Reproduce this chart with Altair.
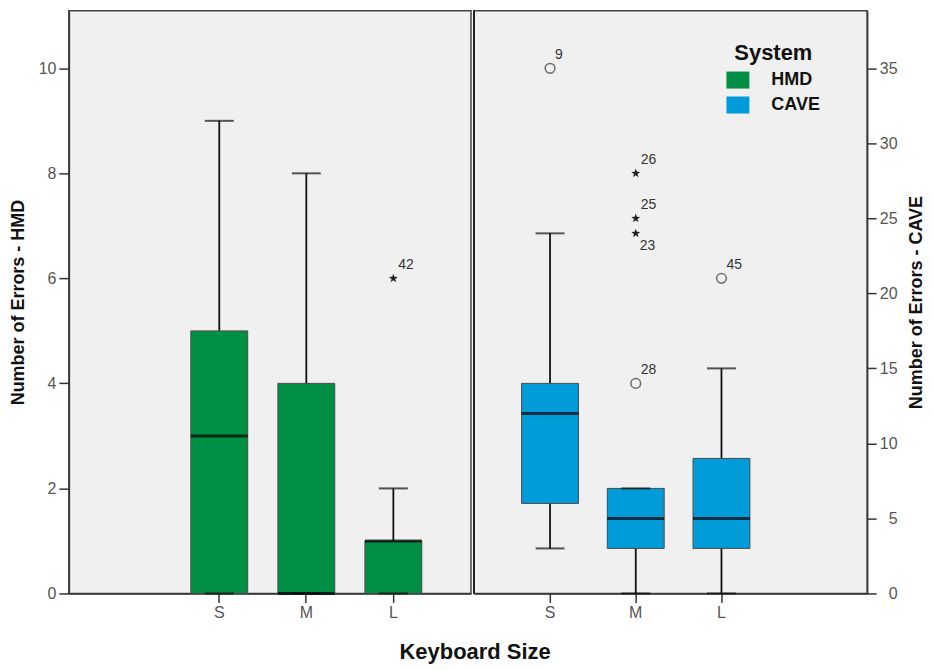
import altair as alt
import pandas as pd

# ---- data ----
sizes = ["S", "M", "L"]
systems = ["HMD", "CAVE"]
system_colors = ["#008f45", "#009bd9"]

hmd_low = [0, 0, 0]
hmd_q1 = [0, 0, 0]
hmd_median = [3, 0, 1]
hmd_q3 = [5, 4, 1]
hmd_high = [9, 8, 2]

cave_low = [3, 0, 0]
cave_q1 = [6, 3, 3]
cave_median = [12, 5, 5]
cave_q3 = [14, 7, 9]
cave_high = [24, 7, 15]

out_system = ["HMD", "CAVE", "CAVE", "CAVE", "CAVE", "CAVE", "CAVE"]
out_size = ["L", "S", "M", "M", "M", "M", "L"]
out_value = [6, 35, 14, 24, 25, 28, 21]
out_case = ["42", "9", "28", "23", "25", "26", "45"]
out_kind = ["extreme", "outlier", "outlier", "extreme", "extreme", "extreme", "outlier"]
out_label_side = ["above", "above", "above", "below", "above", "above", "above"]

hmd_ticks = [0, 2, 4, 6, 8, 10]
cave_ticks = [0, 5, 10, 15, 20, 25, 30, 35]

STAR = ("M0,-1L0.235,-0.324L0.951,-0.309L0.38,0.124L0.588,0.809L0,0.4"
        "L-0.588,0.809L-0.38,0.124L-0.951,-0.309L-0.235,-0.324Z")
SWATCH = "M-1,-0.74L1,-0.74L1,0.74L-1,0.74Z"

outliers = pd.DataFrame({
    "system": out_system, "size": out_size, "value": out_value,
    "case": out_case, "kind": out_kind, "side": out_label_side,
})

AX = dict(domainColor="#333", domainWidth=1.5, tickColor="#333", tickWidth=1.5,
          labelColor="#555", labelFontSize=16, labelFont="Liberation Sans",
          titleFont="Liberation Sans", titleFontSize=18, titleFontWeight="bold",
          titleColor="#111", grid=False)

PANEL_H = 584


def panel(system, low, q1, med, q3, high, ymax, ticks, width, pin, align,
          orient, title, legend):
    box = pd.DataFrame({"size": sizes, "system": system, "low": low, "q1": q1,
                        "median": med, "q3": q3, "high": high})
    outs = outliers[outliers["system"] == system]

    xscale = alt.Scale(type="band", domain=sizes, paddingInner=pin,
                       paddingOuter=1, align=align)
    x = alt.X("size:N", scale=xscale,
              axis=alt.Axis(title=None, labelAngle=0, tickSize=9, labelPadding=2,
                            **AX))
    yscale = alt.Scale(domain=[0, ymax], nice=False, zero=True)
    if orient == "left":
        yaxis = alt.Axis(orient="left", values=ticks, title=title, tickSize=10,
                         labelPadding=3, titlePadding=11, **AX)
    else:
        yaxis = alt.Axis(orient="right", values=ticks, title=title, tickSize=9,
                         labelPadding=21, labelAlign="right", titlePadding=10,
                         titleAngle=270, titleBaseline="top", **AX)

    base = alt.Chart(box).encode(x=x)
    whisk = base.mark_rule(color="#111", strokeWidth=1.8).encode(
        y=alt.Y("low:Q", scale=yscale, axis=yaxis), y2="high:Q")
    bars = base.mark_bar(size=57, stroke="#4a4a4a", strokeWidth=1).encode(
        y=alt.Y("q1:Q", scale=yscale), y2="q3:Q",
        color=alt.Color("system:N", scale=alt.Scale(domain=systems, range=system_colors),
                        legend=legend))
    caps = base.transform_fold(["low", "high"], as_=["end", "v"]).mark_tick(
        size=29, thickness=2, color="#111").encode(y=alt.Y("v:Q", scale=yscale))
    medians = base.mark_tick(size=57, thickness=3, color="#000").encode(
        y=alt.Y("median:Q", scale=yscale))

    obase = alt.Chart(outs).encode(x=alt.X("size:N", scale=xscale),
                                   y=alt.Y("value:Q", scale=yscale))
    circles = obase.transform_filter(alt.datum.kind == "outlier").mark_point(
        shape="circle", filled=False, size=95, strokeWidth=1.5, color="#333")
    stars = obase.transform_filter(alt.datum.kind == "extreme").mark_point(
        shape=STAR, filled=True, size=90, color="#222", opacity=1)
    lab_up = obase.transform_filter(alt.datum.side == "above").mark_text(
        align="left", baseline="middle", dx=5, dy=-13, fontSize=14,
        font="Liberation Sans", color="#333").encode(text="case:N")
    lab_dn = obase.transform_filter(alt.datum.side == "below").mark_text(
        align="left", baseline="middle", dx=4, dy=13, fontSize=14,
        font="Liberation Sans", color="#333").encode(text="case:N")

    layers = [whisk, bars, caps, medians, circles, stars, lab_up, lab_dn]
    if orient == "right":
        divider = alt.Chart(box).mark_rule(color="#222", strokeWidth=2).encode(
            x=alt.value(0), y=alt.value(0), y2=alt.value(PANEL_H))
        layers.append(divider)
    return alt.layer(*layers).properties(
        width=width, height=PANEL_H,
        view=alt.ViewBackground(fill="#f0f0f0", stroke="#444", strokeWidth=1.5))


legend = alt.Legend(title="System", orient="none", legendX=253, legendY=32,
                    symbolType=SWATCH, symbolSize=529, symbolStrokeWidth=0,
                    symbolOpacity=1, labelFontSize=18, labelFontWeight="bold",
                    labelColor="#111", labelFont="Liberation Sans",
                    titleFont="Liberation Sans", titleFontSize=22,
                    titleFontWeight="bold", titleColor="#111", titleAnchor="middle",
                    labelOffset=22, rowPadding=4, padding=0, titlePadding=4)

left = panel("HMD", hmd_low, hmd_q1, hmd_median, hmd_q3, hmd_high, 11.097,
             hmd_ticks, 403, 0.38, 0.709, "left", "Number of Errors - HMD", None)
right = panel("CAVE", cave_low, cave_q1, cave_median, cave_q3, cave_high, 38.84,
              cave_ticks, 394, 0.413, 0.297, "right", "Number of Errors - CAVE", legend)

chart = alt.hconcat(left, right, spacing=0).resolve_scale(
    color="independent", y="independent", x="independent"
).properties(
    title=alt.TitleParams("Keyboard Size", orient="bottom", anchor="middle",
                          fontSize=22, fontWeight="bold", color="#111",
                          font="Liberation Sans", offset=21, dx=8)
).configure_view(
    fill="#f0f0f0", stroke="#444", strokeWidth=1.5
).configure(
    padding={"left": 0, "top": 0, "right": 0, "bottom": 0}, background="white"
)

chart.save("out.html", embed_options={"renderer": "svg", "actions": False})
